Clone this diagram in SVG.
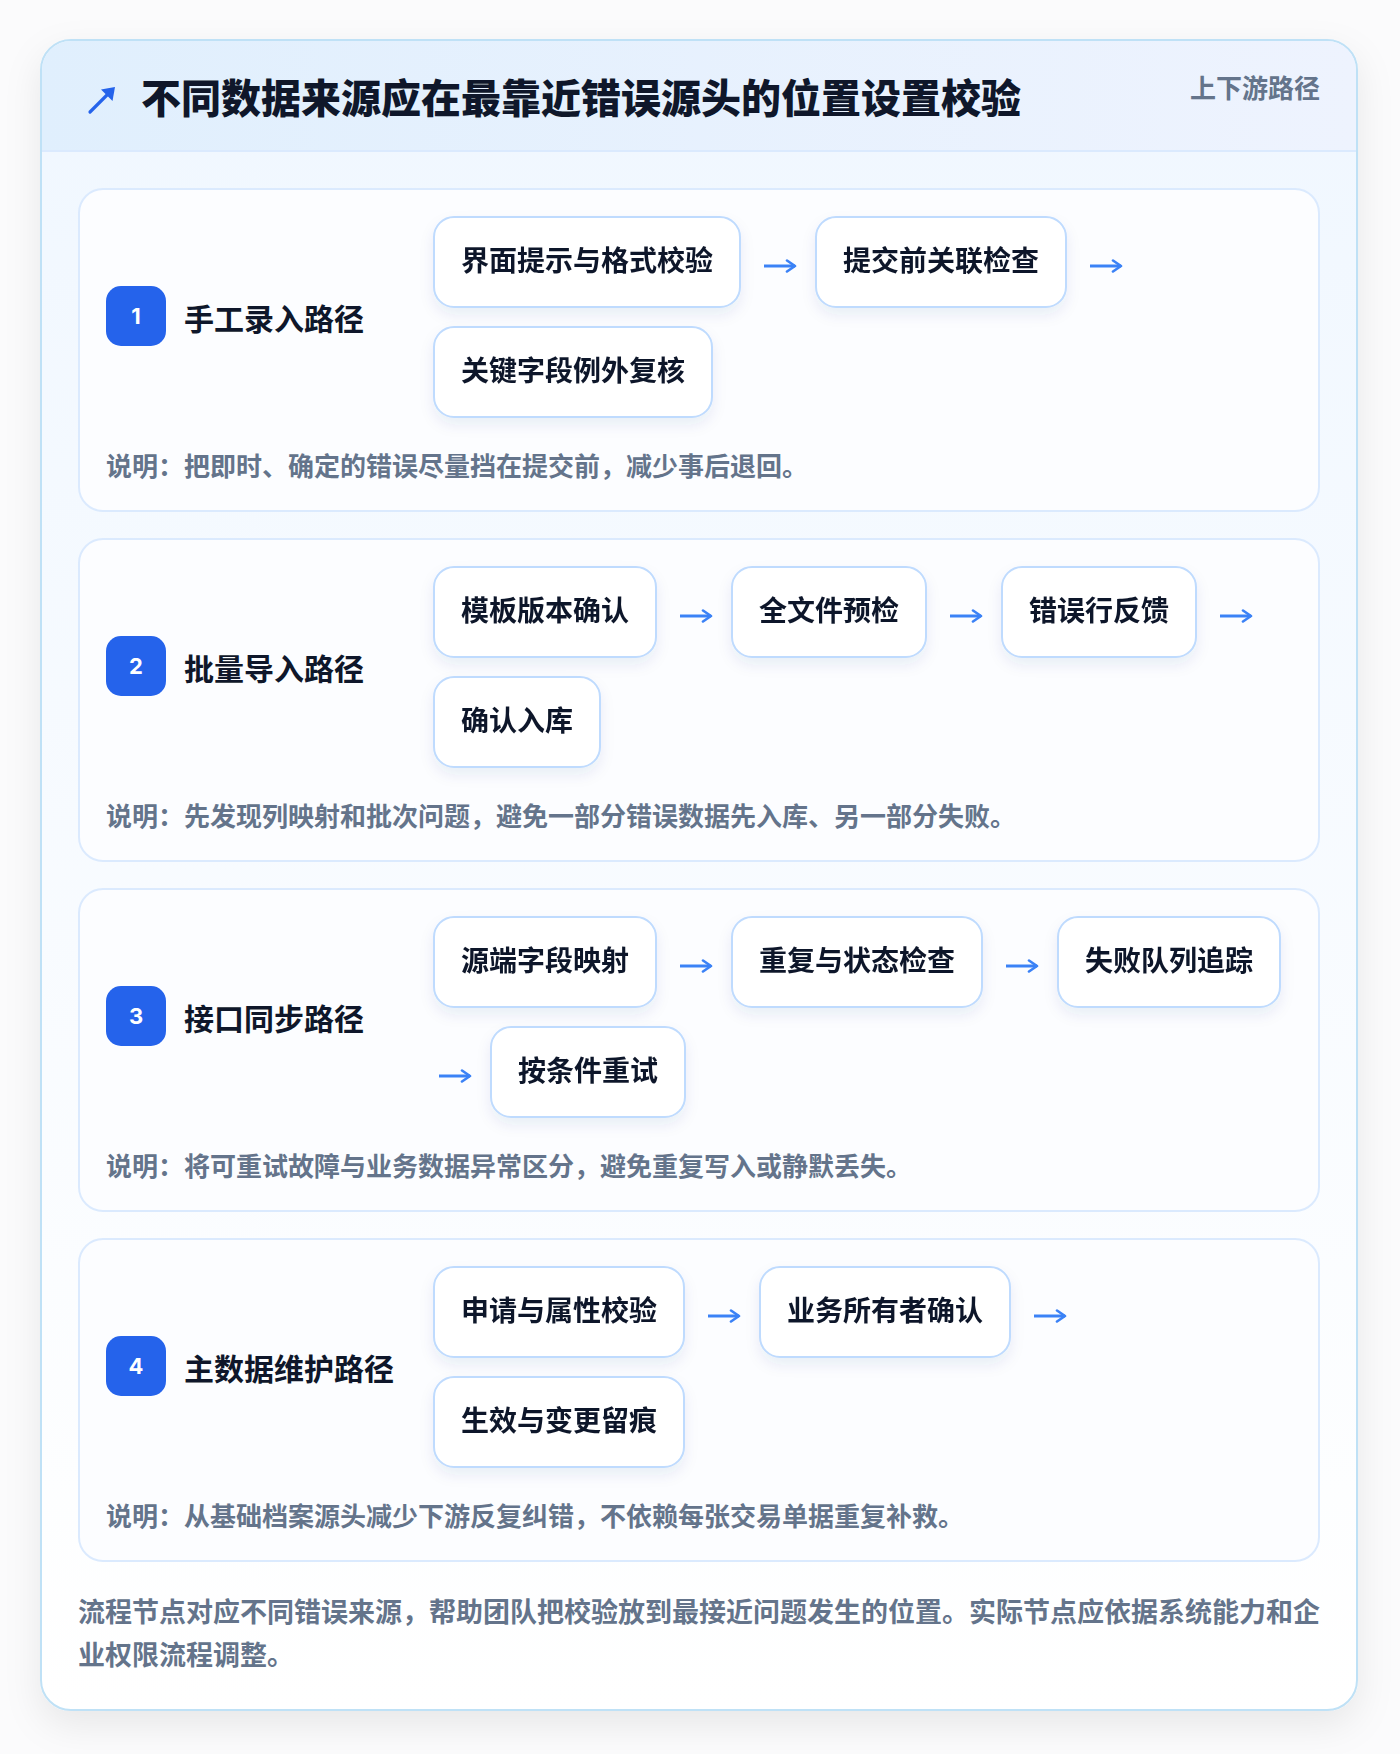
<svg xmlns="http://www.w3.org/2000/svg" width="1400" height="1754" viewBox="0 0 1400 1754">
  <defs>
    <linearGradient id="hdr" x1="0" y1="0" x2="1" y2="0">
      <stop offset="0" stop-color="#e0effd"/>
      <stop offset="1" stop-color="#eef3fe"/>
    </linearGradient>
    <linearGradient id="body" x1="0" y1="0" x2="0" y2="1">
      <stop offset="0" stop-color="#f0f7ff"/>
      <stop offset="1" stop-color="#ffffff"/>
    </linearGradient>
    <filter id="cardShadow" x="-10%" y="-10%" width="120%" height="120%">
      <feDropShadow dx="0" dy="14" stdDeviation="18" flood-color="#0f172a" flood-opacity="0.08"/>
    </filter>
    <filter id="nodeShadow" x="-20%" y="-30%" width="140%" height="170%">
      <feDropShadow dx="0" dy="7" stdDeviation="7" flood-color="#1e3a8a" flood-opacity="0.08"/>
    </filter>
    <marker id="ah" markerUnits="userSpaceOnUse" markerWidth="14" markerHeight="14" refX="10" refY="7" orient="auto">
      <path d="M2,1.5 L10,7 L2,12.5" fill="none" stroke="#3b82f6" stroke-width="2.6" stroke-linecap="round" stroke-linejoin="round"/>
    </marker>
    <style>
      .sec{fill:#fcfdff;stroke:#dbeafe;stroke-width:2}
      .node rect{fill:#ffffff;stroke:#bfdbfe;stroke-width:2}
      .nt{font-family:"Noto Sans CJK SC","Noto Sans",sans-serif;font-weight:700;font-size:28px;fill:#0f172a;text-anchor:middle}
      .badge{fill:#2563eb}
      .bn{font-family:Inter,"Noto Sans","Noto Sans CJK SC",sans-serif;font-weight:700;font-size:22px;fill:#ffffff;text-anchor:middle}
      .lbl{font-family:"Noto Sans CJK SC","Noto Sans",sans-serif;font-weight:700;font-size:30px;fill:#0f172a}
      .note{font-family:"Noto Sans CJK SC","Noto Sans",sans-serif;font-weight:700;font-size:26px;fill:#64748b}
      .foot{font-family:"Noto Sans CJK SC","Noto Sans",sans-serif;font-weight:700;font-size:27px;fill:#64748b}
      .conn path{fill:none;stroke:#3b82f6;stroke-width:3;marker-end:url(#ah)}
    </style>
  </defs>

  <rect x="0" y="0" width="1400" height="1754" fill="#fbfbfc"/>

  <!-- outer card -->
  <g id="card">
    <rect x="41" y="40" width="1316" height="1670" rx="30" fill="url(#body)" stroke="#bfe1f6" stroke-width="2" filter="url(#cardShadow)"/>
    <path d="M42,151 V70 A29,29 0 0 1 71,41 H1327 A29,29 0 0 1 1356,70 V151 Z" fill="url(#hdr)"/>
    <line x1="42" y1="151" x2="1356" y2="151" stroke="#dbeafe" stroke-width="2"/>
    <g id="icon">
      <path d="M90,112 L109,93" stroke="#2563eb" stroke-width="3.2" stroke-linecap="round" fill="none"/>
      <path d="M115,87 L112.5,101 L101,89.5 Z" fill="#2563eb"/>
    </g>
    <text x="141" y="113" font-family="'Noto Sans CJK SC','Noto Sans',sans-serif" font-weight="900" font-size="40" fill="#0f172a">不同数据来源应在最靠近错误源头的位置设置校验</text>
    <text x="1320" y="98" text-anchor="end" font-family="'Noto Sans CJK SC','Noto Sans',sans-serif" font-weight="700" font-size="26" fill="#64748b">上下游路径</text>
  </g>

  <!-- section 1 -->
  <g id="section1">
    <rect class="sec" x="79" y="189" width="1240" height="322" rx="24"/>
    <rect class="badge" x="106" y="286" width="60" height="60" rx="15"/>
    <text class="bn" x="136" y="324">1</text>
    <text class="lbl" x="184" y="330">手工录入路径</text>
    <text class="note" x="106" y="476">说明：把即时、确定的错误尽量挡在提交前，减少事后退回。</text>
  </g>
  <g id="s1n1" class="node" filter="url(#nodeShadow)"><rect x="434" y="217" width="306" height="90" rx="20"/><text class="nt" x="587" y="271">界面提示与格式校验</text></g>
  <g id="s1n2" class="node" filter="url(#nodeShadow)"><rect x="816" y="217" width="250" height="90" rx="20"/><text class="nt" x="941" y="271">提交前关联检查</text></g>
  <g id="s1n3" class="node" filter="url(#nodeShadow)"><rect x="434" y="327" width="278" height="90" rx="20"/><text class="nt" x="573" y="381">关键字段例外复核</text></g>

  <!-- section 2 -->
  <g id="section2">
    <rect class="sec" x="79" y="539" width="1240" height="322" rx="24"/>
    <rect class="badge" x="106" y="636" width="60" height="60" rx="15"/>
    <text class="bn" x="136" y="674">2</text>
    <text class="lbl" x="184" y="680">批量导入路径</text>
    <text class="note" x="106" y="826">说明：先发现列映射和批次问题，避免一部分错误数据先入库、另一部分失败。</text>
  </g>
  <g id="s2n1" class="node" filter="url(#nodeShadow)"><rect x="434" y="567" width="222" height="90" rx="20"/><text class="nt" x="545" y="621">模板版本确认</text></g>
  <g id="s2n2" class="node" filter="url(#nodeShadow)"><rect x="732" y="567" width="194" height="90" rx="20"/><text class="nt" x="829" y="621">全文件预检</text></g>
  <g id="s2n3" class="node" filter="url(#nodeShadow)"><rect x="1002" y="567" width="194" height="90" rx="20"/><text class="nt" x="1099" y="621">错误行反馈</text></g>
  <g id="s2n4" class="node" filter="url(#nodeShadow)"><rect x="434" y="677" width="166" height="90" rx="20"/><text class="nt" x="517" y="731">确认入库</text></g>

  <!-- section 3 -->
  <g id="section3">
    <rect class="sec" x="79" y="889" width="1240" height="322" rx="24"/>
    <rect class="badge" x="106" y="986" width="60" height="60" rx="15"/>
    <text class="bn" x="136" y="1024">3</text>
    <text class="lbl" x="184" y="1030">接口同步路径</text>
    <text class="note" x="106" y="1176">说明：将可重试故障与业务数据异常区分，避免重复写入或静默丢失。</text>
  </g>
  <g id="s3n1" class="node" filter="url(#nodeShadow)"><rect x="434" y="917" width="222" height="90" rx="20"/><text class="nt" x="545" y="971">源端字段映射</text></g>
  <g id="s3n2" class="node" filter="url(#nodeShadow)"><rect x="732" y="917" width="250" height="90" rx="20"/><text class="nt" x="857" y="971">重复与状态检查</text></g>
  <g id="s3n3" class="node" filter="url(#nodeShadow)"><rect x="1058" y="917" width="222" height="90" rx="20"/><text class="nt" x="1169" y="971">失败队列追踪</text></g>
  <g id="s3n4" class="node" filter="url(#nodeShadow)"><rect x="491" y="1027" width="194" height="90" rx="20"/><text class="nt" x="588" y="1081">按条件重试</text></g>

  <!-- section 4 -->
  <g id="section4">
    <rect class="sec" x="79" y="1239" width="1240" height="322" rx="24"/>
    <rect class="badge" x="106" y="1336" width="60" height="60" rx="15"/>
    <text class="bn" x="136" y="1374">4</text>
    <text class="lbl" x="184" y="1380">主数据维护路径</text>
    <text class="note" x="106" y="1526">说明：从基础档案源头减少下游反复纠错，不依赖每张交易单据重复补救。</text>
  </g>
  <g id="s4n1" class="node" filter="url(#nodeShadow)"><rect x="434" y="1267" width="250" height="90" rx="20"/><text class="nt" x="559" y="1321">申请与属性校验</text></g>
  <g id="s4n2" class="node" filter="url(#nodeShadow)"><rect x="760" y="1267" width="250" height="90" rx="20"/><text class="nt" x="885" y="1321">业务所有者确认</text></g>
  <g id="s4n3" class="node" filter="url(#nodeShadow)"><rect x="434" y="1377" width="250" height="90" rx="20"/><text class="nt" x="559" y="1431">生效与变更留痕</text></g>

  <!-- connectors -->
  <g id="connectors" class="conn">
    <path d="M764,266 H795"/>
    <path d="M1090,266 H1121"/>
    <path d="M680,616 H711"/>
    <path d="M950,616 H981"/>
    <path d="M1220,616 H1251"/>
    <path d="M680,966 H711"/>
    <path d="M1006,966 H1037"/>
    <path d="M439,1076 H470"/>
    <path d="M708,1316 H739"/>
    <path d="M1034,1316 H1065"/>
  </g>

  <!-- footer -->
  <g id="footer">
    <text class="foot" x="78" y="1622">流程节点对应不同错误来源，帮助团队把校验放到最接近问题发生的位置。实际节点应依据系统能力和企</text>
    <text class="foot" x="78" y="1665">业权限流程调整。</text>
  </g>
</svg>
